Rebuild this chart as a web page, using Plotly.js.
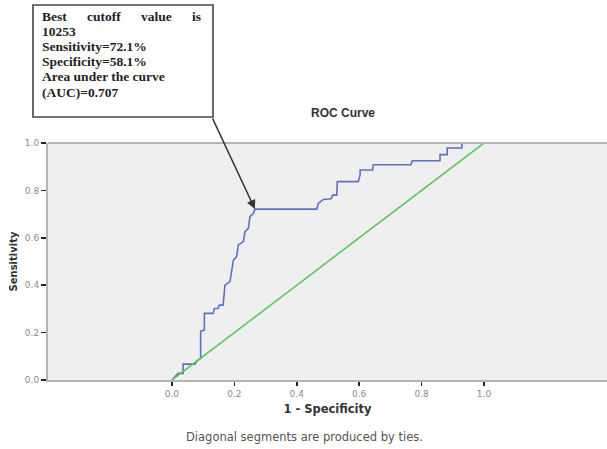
<!DOCTYPE html>
<html>
<head>
<meta charset="utf-8">
<script src="https://cdn.plot.ly/plotly-3.0.1.min.js"></script>
<style>html,body{margin:0;padding:0;background:#fff;}#chart{width:607px;height:449px;}</style>
</head>
<body>
<div id="chart"></div>
<script>
// ROC curve vertices (1 - Specificity, Sensitivity)
const rocFpr = [0.000,0.010,0.020,0.036,0.036,0.074,0.080,0.092,0.092,0.104,0.104,0.132,0.136,0.148,0.152,0.164,0.168,0.170,0.186,0.191,0.197,0.207,0.213,0.229,0.234,0.245,0.250,0.261,0.266,0.464,0.469,0.485,0.510,0.515,0.528,0.530,0.597,0.603,0.603,0.643,0.645,0.766,0.770,0.859,0.859,0.882,0.882,0.929,0.929,1.000];
const rocTpr = [0.000,0.014,0.028,0.028,0.067,0.067,0.081,0.091,0.205,0.211,0.281,0.281,0.302,0.302,0.316,0.316,0.380,0.400,0.415,0.450,0.506,0.520,0.570,0.584,0.626,0.640,0.689,0.703,0.721,0.721,0.745,0.762,0.765,0.780,0.780,0.837,0.837,0.865,0.886,0.886,0.908,0.908,0.925,0.925,0.951,0.951,0.979,0.979,1.000,1.000];
const refX = [0, 1];
const refY = [0, 1];
const tickVals = [0, 0.2, 0.4, 0.6, 0.8, 1.0];
const tickText = ["0.0", "0.2", "0.4", "0.6", "0.8", "1.0"];
const cutoff = {x: 0.266, y: 0.721};
const boxLines = ["Best\u00a0\u00a0\u00a0\u00a0\u00a0\u00a0cutoff\u00a0\u00a0\u00a0\u00a0\u00a0\u00a0value\u00a0\u00a0\u00a0\u00a0\u00a0\u00a0is", "10253", "Sensitivity=72.1%", "Specificity=58.1%", "Area under the curve", "(AUC)=0.707"];
const noteText = "Diagonal segments are produced by ties.";

// pixel -> paper helpers (plot area: x 48..607, y 143..380)
const PL = 48, PW = 559, PB = 380, PH = 237;
const px = v => (v - PL) / PW;
const py = v => (PB - v) / PH;

const traces = [
  {x: rocFpr, y: rocTpr, type: 'scatter', mode: 'lines', line: {color: '#5f6fc2', width: 1.6}, hoverinfo: 'skip'},
  {x: refX, y: refY, type: 'scatter', mode: 'lines', line: {color: '#5cc85c', width: 1.6}, hoverinfo: 'skip'}
];

const sans = 'DejaVu Sans, Verdana, sans-serif';
const serif = 'Liberation Serif, Times New Roman, serif';

const annotations = boxLines.map((t, i) => ({
  xref: 'paper', yref: 'paper', x: px(40), y: py(16 + 15.2 * i), xanchor: 'left', yanchor: 'middle',
  text: '<b>' + t + '</b>', showarrow: false, align: 'left',
  font: {family: serif, size: 13.5, color: '#222'}
}));
annotations.push(
  {x: cutoff.x, y: cutoff.y, xref: 'x', yref: 'y', text: '', showarrow: true,
   ax: -43, ay: -92, arrowhead: 2, arrowsize: 1.2, arrowwidth: 1.5, arrowcolor: '#333', standoff: 0},
  {xref: 'paper', yref: 'paper', x: px(304), y: py(437), xanchor: 'center', yanchor: 'middle',
   text: noteText, showarrow: false, font: {family: sans, size: 11.5, color: '#555'}}
);

const layout = {
  width: 607, height: 449,
  margin: {l: 48, r: 0, t: 143, b: 69, pad: 0},
  paper_bgcolor: '#ffffff',
  plot_bgcolor: '#efefef',
  showlegend: false,
  font: {family: sans, color: '#333'},
  title: {text: '<b>ROC Curve</b>', font: {size: 12, color: '#333', family: 'Liberation Sans, Arial, sans-serif'},
          xref: 'container', yref: 'container', x: 343/607, xanchor: 'center', y: 1 - 113/449, yanchor: 'middle'},
  xaxis: {range: [-0.397, 1.394], tickvals: tickVals, ticktext: tickText, showgrid: false, zeroline: false,
          ticks: 'outside', ticklen: 4, tickwidth: 1.5, tickcolor: '#222',
          showline: true, linecolor: '#b4b4b4', linewidth: 2,
          tickfont: {size: 9, color: '#8a8a8a', family: sans},
          title: {text: '<b>1 - Specificity</b>', font: {size: 11.5, color: '#333', family: sans}, standoff: 7}},
  yaxis: {range: [0, 1], tickvals: tickVals, ticktext: tickText, showgrid: false, zeroline: false,
          ticks: 'outside', ticklen: 5, tickwidth: 1.5, tickcolor: '#222',
          showline: true, linecolor: '#b4b4b4', linewidth: 2,
          tickfont: {size: 9, color: '#8a8a8a', family: sans},
          title: {text: '<b>Sensitivity</b>', font: {size: 10, color: '#333', family: sans}, standoff: 5}},
  shapes: [
    {type: 'line', xref: 'paper', yref: 'paper', x0: 0, x1: 1, y0: 1, y1: 1, line: {color: '#b4b4b4', width: 2}},
    {type: 'rect', xref: 'paper', yref: 'paper', x0: px(33), x1: px(213), y0: py(117), y1: py(5),
     fillcolor: '#ffffff', line: {color: '#444', width: 1.6}}
  ],
  annotations: annotations
};

Plotly.newPlot('chart', traces, layout, {staticPlot: true, displayModeBar: false});
</script>
</body>
</html>
